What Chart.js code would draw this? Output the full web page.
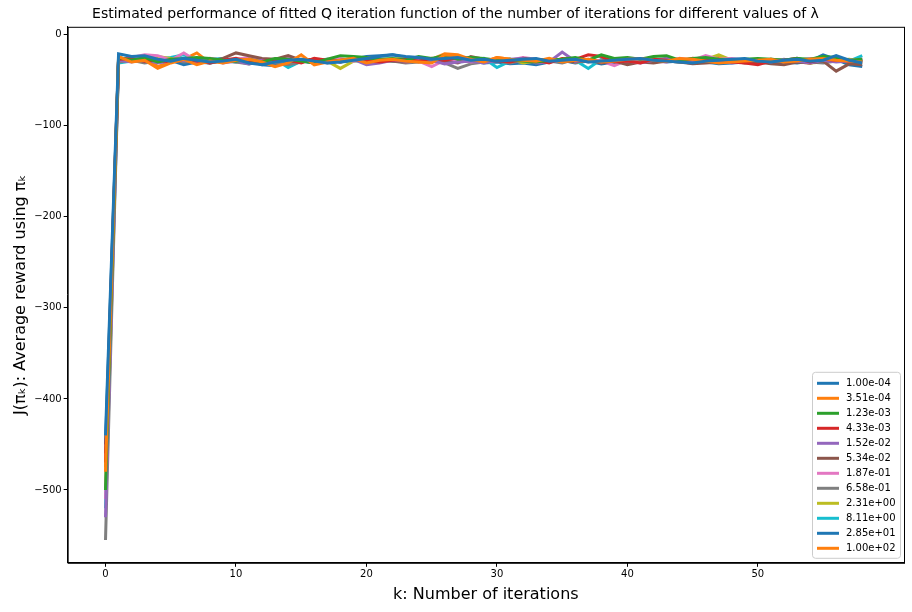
<!DOCTYPE html>
<html><head><meta charset="utf-8">
<script src="https://cdn.jsdelivr.net/npm/chart.js@4"></script>
<style>body{margin:0;background:#fff}#w{width:912px;height:612px}</style>
</head><body><div id="w"><canvas id="c"></canvas></div>
<script>
const iterations = Array.from({length:59},(_,i)=>i);
const lambdaLabels = ["1.00e-04","3.51e-04","1.23e-03","4.33e-03","1.52e-02","5.34e-02","1.87e-01","6.58e-01","2.31e+00","8.11e+00","2.85e+01","1.00e+02"];
const s0 = [-440,-21,-24,-23,-27,-29,-26,-28,-30,-29,-27,-31,-33,-30,-28,-27,-29,-31,-30,-28,-26,-24,-22,-24,-25,-27,-26,-25,-28,-27,-29,-28,-27,-26,-29,-28,-27,-30,-29,-28,-27,-26,-28,-29,-30,-31,-29,-28,-27,-26,-29,-30,-28,-27,-29,-28,-23,-28,-31];
const s1 = [-480,-24,-30,-28,-37,-31,-27,-33,-29,-31,-28,-27,-30,-35,-31,-22,-33,-30,-28,-26,-31,-28,-27,-29,-30,-31,-22,-24,-27,-30,-25,-27,-28,-29,-26,-30,-28,-27,-30,-29,-27,-26,-28,-29,-26,-27,-29,-31,-30,-29,-28,-27,-30,-29,-27,-26,-28,-29,-30];
const s2 = [-500,-25,-28,-25,-30,-27,-26,-25,-26,-28,-29,-27,-30,-26,-27,-29,-31,-27,-23,-24,-25,-27,-26,-28,-24,-26,-23,-27,-25,-26,-28,-27,-29,-30,-28,-27,-25,-28,-22,-26,-25,-27,-24,-23,-28,-26,-25,-27,-28,-27,-26,-27,-28,-26,-27,-24,-25,-28,-27];
const s3 = [-470,-27,-26,-29,-28,-30,-27,-29,-31,-28,-26,-30,-29,-27,-28,-31,-26,-28,-30,-27,-29,-30,-28,-27,-29,-26,-28,-25,-26,-27,-29,-30,-27,-28,-31,-26,-27,-22,-24,-30,-29,-31,-27,-28,-29,-26,-28,-27,-30,-31,-33,-29,-28,-26,-30,-27,-28,-29,-30];
const s4 = [-530,-28,-30,-27,-31,-29,-28,-30,-27,-31,-29,-32,-28,-30,-27,-28,-31,-30,-29,-27,-33,-31,-28,-29,-27,-28,-32,-30,-29,-31,-28,-27,-26,-31,-30,-19,-29,-28,-30,-27,-29,-31,-28,-26,-29,-30,-27,-28,-31,-29,-28,-30,-27,-29,-31,-28,-30,-29,-27];
const s5 = [-460,-26,-28,-27,-29,-30,-28,-27,-29,-26,-20,-23,-26,-27,-23,-28,-27,-29,-28,-26,-27,-28,-29,-30,-28,-27,-29,-31,-24,-27,-28,-29,-26,-28,-27,-29,-30,-28,-31,-29,-33,-30,-31,-29,-30,-32,-31,-30,-29,-31,-30,-32,-33,-30,-31,-29,-40,-32,-33];
const s6 = [-510,-27,-25,-22,-23,-28,-20,-29,-26,-28,-27,-25,-29,-27,-26,-28,-30,-27,-26,-29,-25,-27,-28,-30,-29,-35,-28,-27,-30,-29,-26,-28,-25,-27,-29,-28,-30,-27,-29,-34,-28,-27,-29,-30,-26,-28,-23,-27,-26,-28,-30,-27,-29,-28,-26,-27,-29,-28,-27];
const s7 = [-555,-30,-28,-31,-29,-27,-30,-29,-31,-28,-30,-32,-29,-31,-33,-30,-28,-31,-29,-27,-30,-28,-29,-31,-30,-29,-31,-37,-32,-30,-29,-31,-28,-30,-29,-31,-27,-30,-28,-29,-31,-30,-28,-29,-30,-31,-29,-28,-30,-29,-31,-30,-28,-29,-30,-31,-29,-30,-28];
const s8 = [-500,-29,-27,-23,-24,-26,-28,-30,-27,-29,-28,-26,-30,-27,-29,-28,-27,-29,-37,-29,-28,-30,-27,-26,-29,-28,-27,-26,-30,-29,-28,-27,-31,-29,-28,-27,-30,-29,-28,-26,-27,-30,-29,-28,-29,-30,-27,-22,-28,-29,-30,-27,-28,-29,-31,-30,-28,-27,-29];
const s9 = [-520,-31,-29,-28,-27,-25,-22,-29,-27,-26,-28,-29,-30,-27,-36,-29,-28,-27,-30,-29,-28,-27,-29,-28,-27,-29,-30,-27,-28,-26,-36,-29,-28,-27,-29,-30,-28,-37,-27,-28,-29,-27,-28,-29,-30,-28,-27,-29,-30,-28,-29,-27,-28,-26,-29,-28,-27,-29,-23];
const s10 = [-450,-27,-28,-26,-29,-28,-33,-30,-31,-29,-30,-28,-33,-34,-30,-29,-31,-28,-30,-27,-24,-23,-22,-25,-26,-27,-28,-30,-29,-31,-30,-32,-31,-33,-30,-28,-31,-29,-32,-30,-31,-29,-28,-30,-29,-31,-30,-32,-31,-30,-29,-28,-30,-31,-29,-22,-27,-33,-35];
const s11 = [-475,-29,-27,-25,-35,-30,-27,-20,-31,-28,-27,-29,-30,-33,-29,-27,-31,-28,-29,-26,-27,-30,-28,-25,-30,-27,-21,-22,-27,-30,-25,-27,-29,-31,-28,-27,-29,-28,-30,-27,-29,-28,-30,-27,-28,-29,-26,-25,-27,-28,-29,-30,-29,-30,-31,-29,-28,-30,-27];
const seriesValues = [s0,s1,s2,s3,s4,s5,s6,s7,s8,s9,s10,s11];
const colors = ["#1f77b4","#ff7f0e","#2ca02c","#d62728","#9467bd","#8c564b","#e377c2","#7f7f7f","#bcbd22","#17becf","#1f77b4","#ff7f0e"];
const xTicks = [0,10,20,30,40,50];
const yTicks = [0,-100,-200,-300,-400,-500];

const legendPlugin = {id:'lg', afterDatasetsDraw(ch){
  const c=ch.ctx, a=ch.chartArea; const n=lambdaLabels.length, lh=15;
  const w=88, h=n*lh+6, x=a.right-w-4, y=a.bottom-h-5;
  c.save(); c.fillStyle='rgba(255,255,255,0.85)'; c.strokeStyle='#ccc'; c.lineWidth=1;
  c.beginPath(); c.roundRect(x+0.5,y+0.5,w,h,3); c.fill(); c.stroke();
  c.font='10px "DejaVu Sans"'; c.textBaseline='middle';
  lambdaLabels.forEach((l,i)=>{const yy=y+4+lh*i+lh/2; c.strokeStyle=colors[i]; c.lineWidth=3;
    c.beginPath(); c.moveTo(x+5,yy); c.lineTo(x+27,yy); c.stroke(); c.fillStyle='#000'; c.fillText(l,x+34,yy);});
  c.restore();}};
const frame = {id:'fr', afterDraw(ch){const c=ch.ctx,a=ch.chartArea;c.save();c.strokeStyle='#000';c.lineWidth=1;c.strokeRect(a.left+0.5,a.top+0.5,a.right-a.left,a.bottom-a.top);c.restore();}};

new Chart(document.getElementById('c'),{type:'line',
 data:{datasets:seriesValues.map((v,i)=>({label:lambdaLabels[i],data:v.map((y,k)=>({x:iterations[k],y})),borderColor:colors[i],backgroundColor:colors[i],borderWidth:3,pointRadius:0,tension:0}))},
 options:{responsive:true,maintainAspectRatio:false,animation:false,
  layout:{padding:{top:6,right:8,left:7,bottom:4}},
  plugins:{legend:{display:false},tooltip:{enabled:false},
   title:{display:true,text:'Estimated performance of fitted Q iteration function of the number of iterations for different values of λ',font:{family:'DejaVu Sans',size:14,weight:'normal'},color:'#000',padding:{top:0,bottom:4}}},
  scales:{
   x:{type:'linear',min:-2.9,max:61.2,afterBuildTicks(s){s.ticks=xTicks.map(v=>({value:v}));},
     grid:{display:true,drawOnChartArea:false,drawTicks:true,tickLength:4,tickColor:'#000'},border:{color:'#000'},
     ticks:{color:'#000',font:{family:'DejaVu Sans',size:10},maxRotation:0,padding:2},
     title:{display:true,text:'k: Number of iterations',color:'#000',font:{family:'DejaVu Sans',size:16},padding:{top:2}}},
   y:{min:-580,max:8.7,afterBuildTicks(s){s.ticks=yTicks.map(v=>({value:v}));},
     grid:{display:true,drawOnChartArea:false,tickLength:4,tickColor:'#000'},border:{color:'#000'},
     ticks:{color:'#000',font:{family:'DejaVu Sans',size:10},padding:2,callback:v=>String(v).replace('-','−')},
     title:{display:true,text:'J(πₖ): Average reward using πₖ',color:'#000',font:{family:'DejaVu Sans',size:16},padding:{bottom:2}}}
  }},plugins:[legendPlugin,frame]});
</script></body></html>
